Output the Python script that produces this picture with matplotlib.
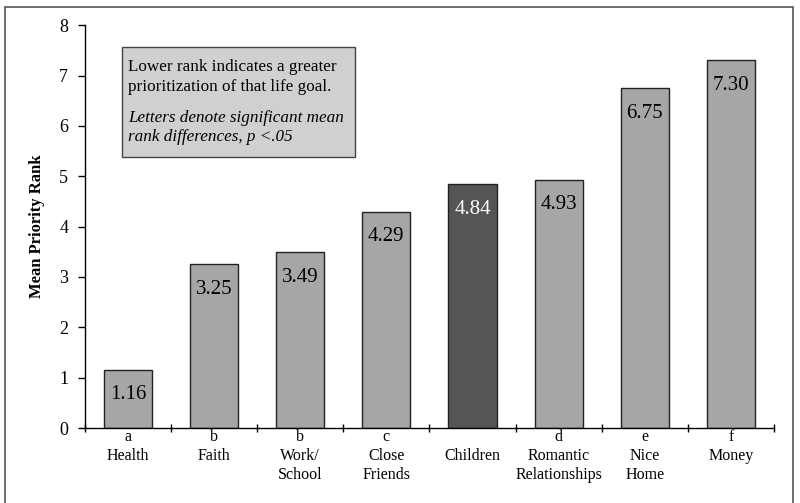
import matplotlib
matplotlib.use('Agg')
import matplotlib.pyplot as plt
from matplotlib.patches import Rectangle

goals = ['Health', 'Faith', 'Work/\nSchool', 'Close\nFriends', 'Children',
         'Romantic\nRelationships', 'Nice\nHome', 'Money']
letters = ['a', 'b', 'b', 'c', '', 'd', 'e', 'f']
ranks = [1.16, 3.25, 3.49, 4.29, 4.84, 4.93, 6.75, 7.30]
highlight = 'Children'

plt.rcParams['font.family'] = ['Liberation Serif', 'DejaVu Serif']

fig = plt.figure(figsize=(8, 5.03), dpi=100)
ax = fig.add_axes([0.106, 0.149, 0.8615, 0.801])

# outer frame around the whole chart
fig.patches.append(Rectangle((0.006, -0.02), 0.985, 1.006, transform=fig.transFigure,
                             fill=False, edgecolor='#555555', linewidth=1.2))

x = list(range(len(goals)))
colors = ['#555555' if g == highlight else '#a6a6a6' for g in goals]
bars = ax.bar(x, ranks, width=0.56, color=colors, edgecolor='#222222', linewidth=1)

for xi, v, g in zip(x, ranks, goals):
    ax.annotate('%.2f' % v, (xi, v), xytext=(0, -18), textcoords='offset points',
                ha='center', va='center', fontsize=15,
                color='white' if g == highlight else 'black')

ax.set_xlim(-0.5, len(goals) - 0.5)
ax.set_ylim(0, 8)
ax.set_yticks(range(0, 9))
ax.tick_params(axis='y', labelsize=13, length=5, width=1, pad=7)

ax.set_xticks(x)
ax.set_xticklabels([l + '\n' + g for l, g in zip(letters, goals)], fontsize=11.5,
                   linespacing=1.22, va='top')
ax.tick_params(axis='x', which='major', length=0, pad=1)
ax.set_xticks([i - 0.5 for i in range(len(goals) + 1)], minor=True)
ax.tick_params(axis='x', which='minor', length=6, width=1, direction='inout')

for s in ['top', 'right']:
    ax.spines[s].set_visible(False)
ax.spines['left'].set_linewidth(1)
ax.spines['bottom'].set_linewidth(1)

ax.set_ylabel('Mean Priority Rank', fontsize=12, fontweight='bold', labelpad=10)

ax.text(0.063, 0.915,
        'Lower rank indicates a greater\nprioritization of that life goal.',
        transform=ax.transAxes, ha='left', va='top', fontsize=12.3, linespacing=1.3)
ax.text(0.063, 0.79,
        'Letters denote significant mean\nrank differences, p <.05',
        transform=ax.transAxes, ha='left', va='top', fontsize=12.3, style='italic',
        linespacing=1.3)
ax.add_patch(Rectangle((0.054, 0.6718), 0.338, 0.273, transform=ax.transAxes,
                       facecolor='#d0d0d0', edgecolor='#444444', linewidth=1, zorder=0))

fig.savefig('out.png', dpi=100)
